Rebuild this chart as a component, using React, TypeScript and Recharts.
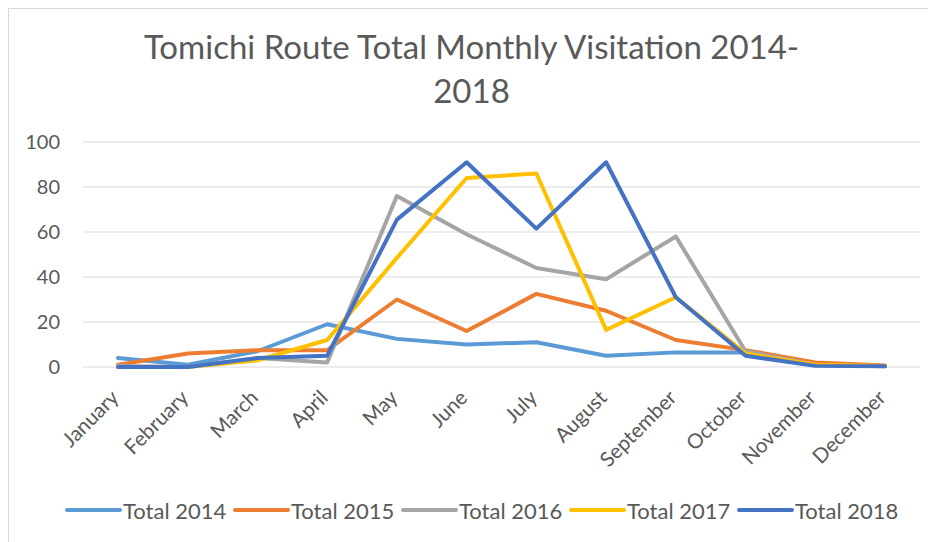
import React from 'react';
import { LineChart, Line, XAxis, YAxis, CartesianGrid, Legend } from 'recharts';

const months = ['January', 'February', 'March', 'April', 'May', 'June', 'July', 'August', 'September', 'October', 'November', 'December'];
const total2014 = [4, 1, 7, 19, 12.5, 10, 11, 5, 6.5, 6.5, 1, 0.4];
const total2015 = [1, 6, 7.5, 7.5, 30, 16, 32.5, 25, 12, 7.5, 2, 0.7];
const total2016 = [0.5, 0, 4, 2, 76, 59, 44, 39, 58, 7, 1, 0.3];
const total2017 = [0, 0, 3, 12, 48.5, 84, 86, 16.5, 31, 6, 1, 0.5];
const total2018 = [0, 0, 4, 5, 65.5, 91, 61.5, 91, 31, 5, 0.5, 0.3];
const yTicks = [0, 20, 40, 60, 80, 100];
const titleLines = ['Tomichi Route Total Monthly Visitation 2014-', '2018'];

const series = [
  { key: 't2014', name: 'Total 2014', values: total2014, color: '#5B9BD5' },
  { key: 't2015', name: 'Total 2015', values: total2015, color: '#ED7D31' },
  { key: 't2016', name: 'Total 2016', values: total2016, color: '#A5A5A5' },
  { key: 't2017', name: 'Total 2017', values: total2017, color: '#FFC000' },
  { key: 't2018', name: 'Total 2018', values: total2018, color: '#4472C4' },
];

const data = months.map((m, i) => {
  const row: Record<string, string | number> = { month: m };
  series.forEach((s) => {
    row[s.key] = s.values[i];
  });
  return row;
});

const FONT = 'Lato, "Liberation Sans", sans-serif';
const TEXT = '#595959';

const MonthTick = (props: any) => {
  const { x, y, payload } = props;
  return (
    <text
      transform={`translate(${x + 2},${y + 24}) rotate(-45)`}
      textAnchor="end"
      fill={TEXT}
      fontSize={20.5}
      fontFamily={FONT}
    >
      {payload.value}
    </text>
  );
};

const LegendContent = () => (
  <div style={{ display: 'flex', paddingLeft: 56, height: 30, alignItems: 'center', fontFamily: FONT }}>
    {series.map((s) => (
      <div key={s.key} style={{ display: 'flex', alignItems: 'center', width: 168 }}>
        <div style={{ width: 57, height: 4, borderRadius: 2, background: s.color, marginRight: 1 }} />
        <span style={{ fontSize: 22, color: TEXT, whiteSpace: 'nowrap' }}>{s.name}</span>
      </div>
    ))}
  </div>
);

export default function App() {
  return (
    <div
      style={{
        position: 'relative',
        width: 928,
        height: 534,
        borderTop: '1px solid #d9d9d9',
        borderLeft: '1px solid #d9d9d9',
        boxSizing: 'border-box',
        background: '#fff',
        overflow: 'hidden',
      }}
    >
      {titleLines.map((line, i) => (
        <div
          key={i}
          style={{
            position: 'absolute',
            left: 0,
            width: 925,
            top: 15 + i * 44,
            textAlign: 'center',
            fontFamily: FONT,
            fontSize: 33,
            lineHeight: '44px',
            color: TEXT,
            whiteSpace: 'nowrap',
          }}
        >
          {line}
        </div>
      ))}
      <div style={{ position: 'absolute', left: 0, top: 0 }}>
        <LineChart width={927} height={533} data={data} margin={{ top: 133, right: 16, left: 0, bottom: 17 }}>
          <CartesianGrid vertical={false} stroke="#d9d9d9" strokeWidth={1} />
          <XAxis
            dataKey="month"
            axisLine={false}
            tickLine={false}
            height={128}
            interval={0}
            padding={{ left: 35, right: 35 }}
            tick={<MonthTick />}
          />
          <YAxis
            domain={[0, 100]}
            ticks={yTicks}
            width={74}
            axisLine={false}
            tickLine={false}
            tickMargin={17}
            tick={{ fill: TEXT, fontSize: 20, fontFamily: FONT }}
          />
          <Legend verticalAlign="bottom" content={<LegendContent />} />
          {series.map((s) => (
            <Line
              key={s.key}
              type="linear"
              dataKey={s.key}
              name={s.name}
              stroke={s.color}
              strokeWidth={4}
              strokeLinecap="round"
              strokeLinejoin="round"
              dot={false}
              activeDot={false}
              isAnimationActive={false}
            />
          ))}
        </LineChart>
      </div>
    </div>
  );
}
